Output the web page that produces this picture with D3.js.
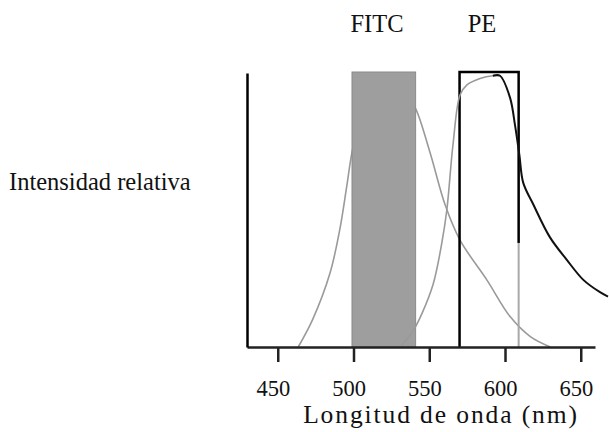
<!DOCTYPE html>
<html>
<head>
<meta charset="utf-8">
<script src="https://cdn.jsdelivr.net/npm/d3@7"></script>
<style>
  body { margin: 0; background: #fff; }
  text { font-family: "Liberation Serif", "Times New Roman", serif; fill: #111; }
  .axis path, .axis line { stroke: #222; }
  .axis--x path { stroke-width: 2.5; }
  .axis--x line { stroke-width: 2.5; }
  .axis--y path { stroke: #000; stroke-width: 2.5; }
  .fitc-curve { fill: none; stroke: #9a9a9a; stroke-width: 1.6; }
  .pe-curve { fill: none; stroke: #9a9a9a; stroke-width: 1.6; }
  .pe-curve-dark { fill: none; stroke: #111; stroke-width: 2; }
</style>
</head>
<body>
<svg width="609" height="432"></svg>
<script>
// wavelength axis
var wavelengthTicks = [450, 500, 550, 600, 650];

// filter bands (nm)
var bandNames = ["FITC", "PE"];
var fitcBand = [499, 541];
var peBand = [570, 609];

// FITC emission (nm, relative intensity)
var fitcNm  = [463.5, 473, 484.5, 491, 495.5, 499, 505, 512, 520, 528, 535, 541, 550.5, 560.4, 570.3, 588, 603.5, 616.7, 630];
var fitcVal = [0, 0.10, 0.27, 0.43, 0.585, 0.71, 0.85, 0.93, 0.96, 0.95, 0.92, 0.87, 0.71, 0.52, 0.39, 0.245, 0.11, 0.038, 0];

// PE emission
var peNm  = [531, 539.6, 545, 552.6, 558.3, 561.6, 565.7, 570.3, 574.7, 583.5, 592, 596.7, 603.3, 606.6, 609.5, 612, 618.7, 629.7, 640.8, 651.7, 662.7, 668];
var peVal = [0, 0.062, 0.12, 0.23, 0.38, 0.50, 0.74, 0.92, 0.956, 0.98, 0.99, 0.99, 0.91, 0.81, 0.70, 0.60, 0.52, 0.40, 0.318, 0.245, 0.20, 0.184];

var svg = d3.select("svg");

var x = d3.scaleLinear()
    .domain([429.7, 659.4])
    .range([247, 595]);

var y = d3.scaleLinear()
    .domain([0, 1])
    .range([347, 73]);

var fitcData = fitcNm.map(function(d, i) { return {nm: d, v: fitcVal[i]}; });
var peData = peNm.map(function(d, i) { return {nm: d, v: peVal[i]}; });

var line = d3.line()
    .x(function(d) { return x(d.nm); })
    .y(function(d) { return y(d.v); })
    .curve(d3.curveCatmullRom.alpha(0.5));

// FITC curve goes under the band
svg.append("path")
    .datum(fitcData)
    .attr("class", "fitc-curve")
    .attr("d", line);

svg.append("rect")
    .attr("class", "fitc-band")
    .attr("x", x(fitcBand[0]))
    .attr("y", y(1) - 1)
    .attr("width", x(fitcBand[1]) - x(fitcBand[0]))
    .attr("height", y(0) - y(1) + 1)
    .attr("fill", "#9e9e9e")
    .attr("stroke", "#8a8a8a")
    .attr("stroke-width", 1);

// PE box: left, top and right edges
svg.append("path")
    .attr("d", "M" + x(peBand[0]) + "," + y(0) +
               "V" + (y(1) - 1) +
               "H" + x(peBand[1]) +
               "V" + y(0.38))
    .attr("fill", "none")
    .attr("stroke", "#000")
    .attr("stroke-width", 2.5);

svg.append("line")
    .attr("x1", x(peBand[1]))
    .attr("x2", x(peBand[1]))
    .attr("y1", y(0.38))
    .attr("y2", y(0))
    .attr("stroke", "#a8a8a8")
    .attr("stroke-width", 2);

svg.append("path")
    .datum(peData.filter(function(d) { return d.nm <= 597; }))
    .attr("class", "pe-curve")
    .attr("d", line);

svg.append("path")
    .datum(peData.filter(function(d) { return d.nm >= 592; }))
    .attr("class", "pe-curve-dark")
    .attr("d", line);

svg.append("g")
    .attr("class", "axis axis--x")
    .attr("transform", "translate(0," + y(0) + ")")
    .call(d3.axisBottom(x)
      .tickValues(wavelengthTicks)
      .tickSize(15)
      .tickSizeOuter(0)
      .tickPadding(18))
    .selectAll("text")
      .attr("dx", -5)
      .style("font-size", "22.5px");

svg.append("g")
    .attr("class", "axis axis--y")
    .attr("transform", "translate(" + x.range()[0] + ",0)")
    .call(d3.axisLeft(y).tickValues([]).tickSizeOuter(0));

svg.append("text")
    .attr("x", 441)
    .attr("y", 423)
    .style("font-size", "25.5px")
    .style("letter-spacing", "1.9px")
    .style("text-anchor", "middle")
    .text("Longitud de onda (nm)");

svg.append("text")
    .attr("x", 9)
    .attr("y", 190)
    .style("font-size", "24.5px")
    .text("Intensidad relativa");

svg.selectAll(".band-label")
    .data(bandNames)
  .enter().append("text")
    .attr("class", "band-label")
    .attr("x", function(d, i) { return i === 0 ? 377 : 482; })
    .attr("y", 32)
    .style("font-size", "24.5px")
    .style("text-anchor", "middle")
    .text(function(d) { return d; });
</script>
</body>
</html>
